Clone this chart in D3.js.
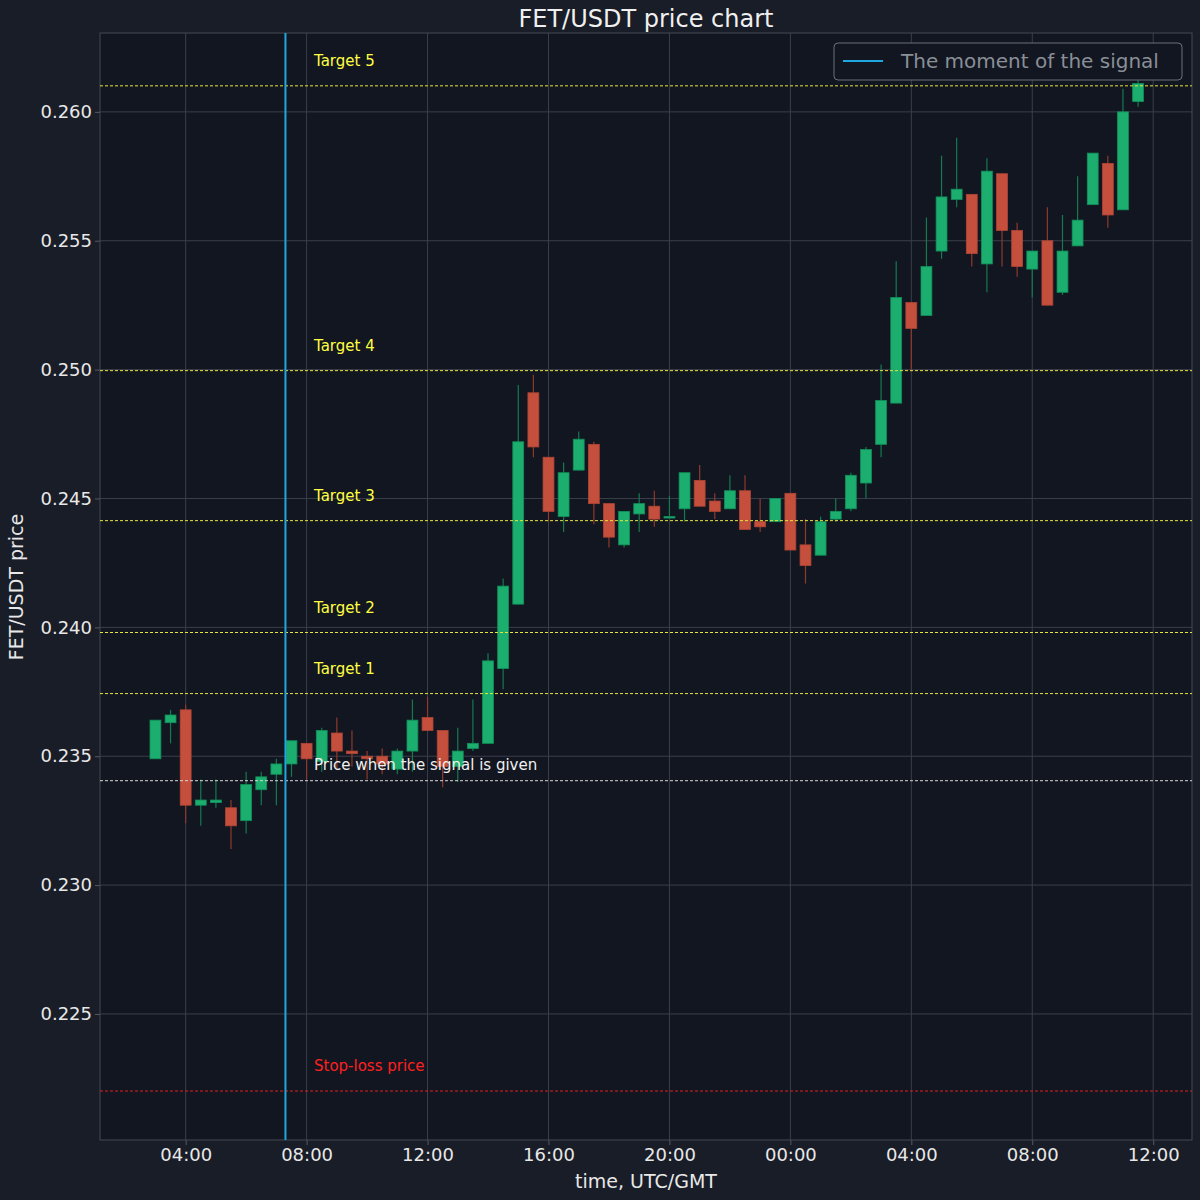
<!DOCTYPE html>
<html><head><meta charset="utf-8">
<script src="https://cdn.jsdelivr.net/npm/d3@7"></script>
<style>body{margin:0;background:#191d27}svg{display:block}text{font-family:"DejaVu Sans",sans-serif}</style>
</head><body><svg id="c" width="1200" height="1200"></svg>
<script>
const opens=[0.2349,0.2363,0.2368,0.2331,0.2332,0.2330,0.2325,0.2337,0.2343,0.2347,0.2355,0.2348,0.2359,0.2352,0.2350,0.2350,0.2345,0.2352,0.2365,0.2360,0.2346,0.2353,0.2355,0.2384,0.2409,0.2491,0.2466,0.2443,0.2461,0.2471,0.2448,0.2432,0.2444,0.2447,0.2443,0.2446,0.2457,0.2449,0.2446,0.2453,0.2441,0.2441,0.2452,0.2432,0.2428,0.2442,0.2446,0.2456,0.2471,0.2487,0.2526,0.2521,0.2546,0.2566,0.2568,0.2541,0.2576,0.2554,0.2539,0.2550,0.2530,0.2548,0.2564,0.2580,0.2562,0.2604];
const closes=[0.2364,0.2366,0.2331,0.2333,0.2333,0.2323,0.2339,0.2342,0.2347,0.2356,0.2349,0.2360,0.2352,0.2351,0.2349,0.2347,0.2352,0.2364,0.2360,0.2346,0.2352,0.2355,0.2387,0.2416,0.2472,0.2470,0.2445,0.2460,0.2473,0.2448,0.2435,0.2445,0.2448,0.2442,0.2443,0.2460,0.2447,0.2445,0.2453,0.2438,0.2439,0.2450,0.2430,0.2424,0.2441,0.2445,0.2459,0.2469,0.2488,0.2528,0.2516,0.2540,0.2567,0.2570,0.2545,0.2577,0.2554,0.2540,0.2546,0.2525,0.2546,0.2558,0.2584,0.2560,0.2600,0.2611];
const highs=[0.2364,0.2368,0.2370,0.2341,0.2341,0.2333,0.2344,0.2344,0.2349,0.2356,0.2355,0.2361,0.2365,0.2360,0.2352,0.2353,0.2353,0.2372,0.2373,0.2360,0.2361,0.2372,0.2390,0.2419,0.2494,0.2498,0.2466,0.2464,0.2476,0.2472,0.2448,0.2445,0.2452,0.2453,0.2451,0.2460,0.2463,0.2452,0.2459,0.2459,0.2450,0.2450,0.2452,0.2442,0.2443,0.2450,0.2460,0.2470,0.2502,0.2542,0.2526,0.2559,0.2583,0.2590,0.2568,0.2582,0.2576,0.2557,0.2546,0.2563,0.2560,0.2575,0.2584,0.2583,0.2609,0.2620];
const lows=[0.2349,0.2355,0.2324,0.2323,0.2330,0.2314,0.2320,0.2331,0.2331,0.2342,0.2341,0.2344,0.2345,0.2346,0.2341,0.2343,0.2343,0.2344,0.2360,0.2338,0.2340,0.2352,0.2355,0.2376,0.2409,0.2466,0.2441,0.2437,0.2461,0.2440,0.2431,0.2431,0.2437,0.2439,0.2443,0.2441,0.2447,0.2442,0.2446,0.2438,0.2437,0.2441,0.2430,0.2417,0.2428,0.2441,0.2445,0.2450,0.2466,0.2487,0.2500,0.2521,0.2543,0.2563,0.2540,0.2530,0.2540,0.2536,0.2528,0.2525,0.2529,0.2548,0.2564,0.2555,0.2562,0.2602];
const startTime="2024-01-01T03:00:00Z";
const signalTime="2024-01-01T07:18:00Z";
const levelNames=["Target 5","Target 4","Target 3","Target 2","Target 1","Price when the signal is given","Stop-loss price"];
const levelValues=[0.26101,0.24996,0.24414,0.2398,0.23743,0.23405,0.22201];
const yTicks=[0.225,0.230,0.235,0.240,0.245,0.250,0.255,0.260];

const svg=d3.select("#c");
const L=100,R=1192,T=33,B=1140;
const t0=new Date(startTime);
const times=opens.map((_,i)=>new Date(+t0+i*1800000));
const x=d3.scaleUtc().domain([new Date("2024-01-01T01:10:00Z"),new Date("2024-01-02T13:17:00Z")]).range([L,R]);
const y=d3.scaleLinear().domain([0.22011,0.26306]).range([B,T]);
svg.append("rect").attr("x",L).attr("y",T).attr("width",R-L).attr("height",B-T).attr("fill","#121620");
const xt=d3.utcHour.every(4).range(new Date("2024-01-01T04:00:00Z"),new Date("2024-01-02T13:00:00Z"));
const grid=svg.append("g").attr("stroke","#3a3f4b").attr("stroke-width",1);
xt.forEach(d=>grid.append("line").attr("x1",x(d)).attr("x2",x(d)).attr("y1",T).attr("y2",B));
yTicks.forEach(d=>grid.append("line").attr("x1",L).attr("x2",R).attr("y1",y(d)).attr("y2",y(d)));
const ax=svg.append("g").attr("transform",`translate(0,${B})`).call(d3.axisBottom(x).tickValues(xt).tickFormat(d3.utcFormat("%H:%M")).tickSizeOuter(0).tickSize(5));
const ay=svg.append("g").attr("transform",`translate(${L},0)`).call(d3.axisLeft(y).tickValues(yTicks).tickFormat(d3.format(".3f")).tickSizeOuter(0).tickSize(5));
[ax,ay].forEach(a=>{a.selectAll("path,line").attr("stroke","#555a66");a.selectAll("text").attr("fill","#e8e8e8").style("font-size","18px");});
ay.select(".domain").remove();ax.select(".domain").remove();
svg.append("rect").attr("x",L).attr("y",T).attr("width",R-L).attr("height",B-T).attr("fill","none").attr("stroke","#444955");
svg.append("defs").append("clipPath").attr("id","cp").append("rect").attr("x",L).attr("y",T).attr("width",R-L).attr("height",B-T);
const plot=svg.append("g").attr("clip-path","url(#cp)");
const bw=(x(times[1])-x(times[0]))*0.72;
times.forEach((t,i)=>{
  const up=closes[i]>=opens[i];const col=up?"#1cae6e":"#c44f3c";const cx=x(t);
  plot.append("line").attr("x1",cx).attr("x2",cx).attr("y1",y(highs[i])).attr("y2",y(lows[i])).attr("stroke",up?"#157a50":"#8e3a2c").attr("stroke-width",1.2);
  const top=y(Math.max(opens[i],closes[i])),bot=y(Math.min(opens[i],closes[i]));
  plot.append("rect").attr("x",cx-bw/2).attr("y",top).attr("width",bw).attr("height",Math.max(1.5,bot-top)).attr("fill",col).attr("stroke",up?"#10905a":"#b04535").attr("stroke-width",0.8);
});
levelValues.forEach((v,i)=>{
  const col=i<5?"#e6e63c":(i==5?"#d8d8d8":"#e02020");
  plot.append("line").attr("x1",L).attr("x2",R).attr("y1",y(v)).attr("y2",y(v)).attr("stroke",col).attr("stroke-width",1).attr("stroke-dasharray","3,2");
  svg.append("text").attr("x",314).attr("y",y(v)-(i==5?11:20)).text(levelNames[i]).attr("fill",i<5?"#ffff44":(i==5?"#f0f0f0":"#ff2020")).style("font-size","15px");
});
const sx=x(new Date(signalTime));
svg.append("line").attr("x1",sx).attr("x2",sx).attr("y1",T).attr("y2",B).attr("stroke","#1fa8e0").attr("stroke-width",2);
svg.append("rect").attr("x",834).attr("y",43).attr("width",348).attr("height",37).attr("rx",4).attr("fill","#121620").attr("stroke","#6a6e78");
svg.append("line").attr("x1",843).attr("x2",883).attr("y1",61).attr("y2",61).attr("stroke","#1fa8e0").attr("stroke-width",2);
svg.append("text").attr("x",901).attr("y",68).text("The moment of the signal").attr("fill","#8a8f98").style("font-size","20px");
svg.append("text").attr("x",646).attr("y",27).attr("text-anchor","middle").text("FET/USDT price chart").attr("fill","#f0f0f0").style("font-size","24px");
svg.append("text").attr("x",646).attr("y",1188).attr("text-anchor","middle").text("time, UTC/GMT").attr("fill","#e8e8e8").style("font-size","19px");
svg.append("text").attr("transform","translate(23,587) rotate(-90)").attr("text-anchor","middle").text("FET/USDT price").attr("fill","#e8e8e8").style("font-size","19px");
</script></body></html>
